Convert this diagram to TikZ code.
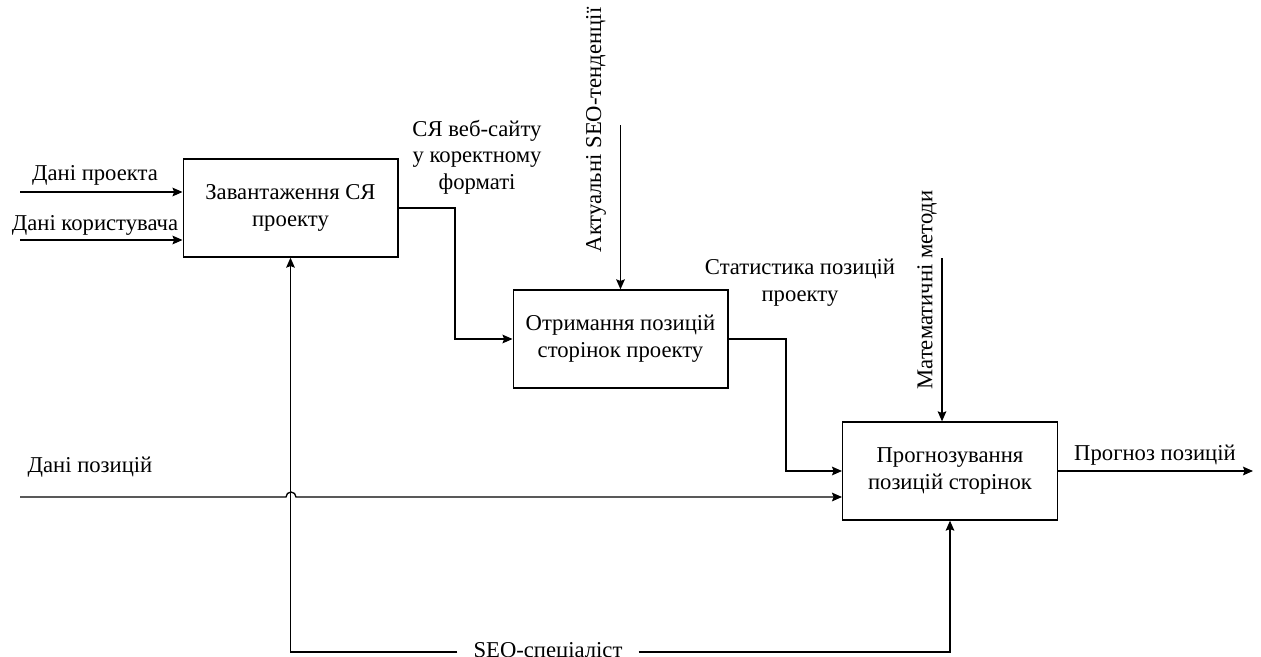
\documentclass[tikz,border=0pt]{standalone}
\usepackage{fontspec}
\setmainfont{Liberation Serif}
\usetikzlibrary{arrows.meta}
\begin{document}
\begin{tikzpicture}[x=0.75pt,y=0.75pt,
  box/.style={draw,line width=1pt,minimum width=161pt,minimum height=73.5pt,inner sep=0pt,align=center,font=\fontsize{17}{20}\selectfont},
  lbl/.style={font=\fontsize{17}{20}\selectfont,align=center,inner sep=0pt},
  flow/.style={line width=1pt,-{Stealth[length=7.5pt,width=6.5pt,inset=1.2pt]}}]
\useasboundingbox (0,0) rectangle (1261,-657);
\node[box] (b1) at (290.5,-208) {Завантаження СЯ\\проекту};
\node[box] (b2) at (620.5,-339) {Отримання позицій\\сторінок проекту};
\node[box] (b3) at (950,-471) {Прогнозування\\позицій сторінок};
% inputs to b1
\coordinate (i1) at (20,-192);
\coordinate (i2) at (20,-240);
\draw[flow] (i1) -- (i1 -| b1.west);
\draw[flow] (i2) -- (i2 -| b1.west);
\node[lbl] (l1) at (95,-175) {Дані проекта};
\node[lbl] (l2) at (95,-225) {Дані користувача};
% b1 -> b2
\draw[flow] (b1.east) -- (455,-208) |- (b2.west);
\node[lbl] (l3) at (477,-157) {СЯ веб-сайту\\у коректному\\форматі};
% control into b2
\coordinate (c1) at (620.5,-125);
\draw[flow] (c1) -- (b2.north);
\node[lbl,rotate=90] (l4) at (596,-130) {Актуальні SEO-тенденції};
% b2 -> b3
\draw[flow] (b2.east) -- (786,-339) |- (b3.west);
\node[lbl] (l5) at (800,-283) {Статистика позицій\\проекту};
% control into b3
\coordinate (c2) at (942,-258);
\draw[flow] (c2) -- (c2 |- b3.north);
\node[lbl,rotate=90] (l6) at (927,-290) {Математичні методи};
% Дані позицій with hop
\coordinate (i3) at (20,-497);
\draw[flow] (i3) -- (286,-497) arc (180:0:5) -- (i3 -| b3.west);
\node[lbl] (l7) at (90,-467) {Дані позицій};
% mechanism
\node[lbl,inner xsep=12pt] (m) at (548,-652) {SEO-спеціаліст};
\draw[flow] (m.west) -| (b1.south);
\draw[flow] (m.east) -| (b3.south);
% output
\coordinate (o) at (1253,-471);
\draw[flow] (b3.east) -- (o);
\node[lbl] (l8) at (1155,-455) {Прогноз позицій};
\end{tikzpicture}
\end{document}
